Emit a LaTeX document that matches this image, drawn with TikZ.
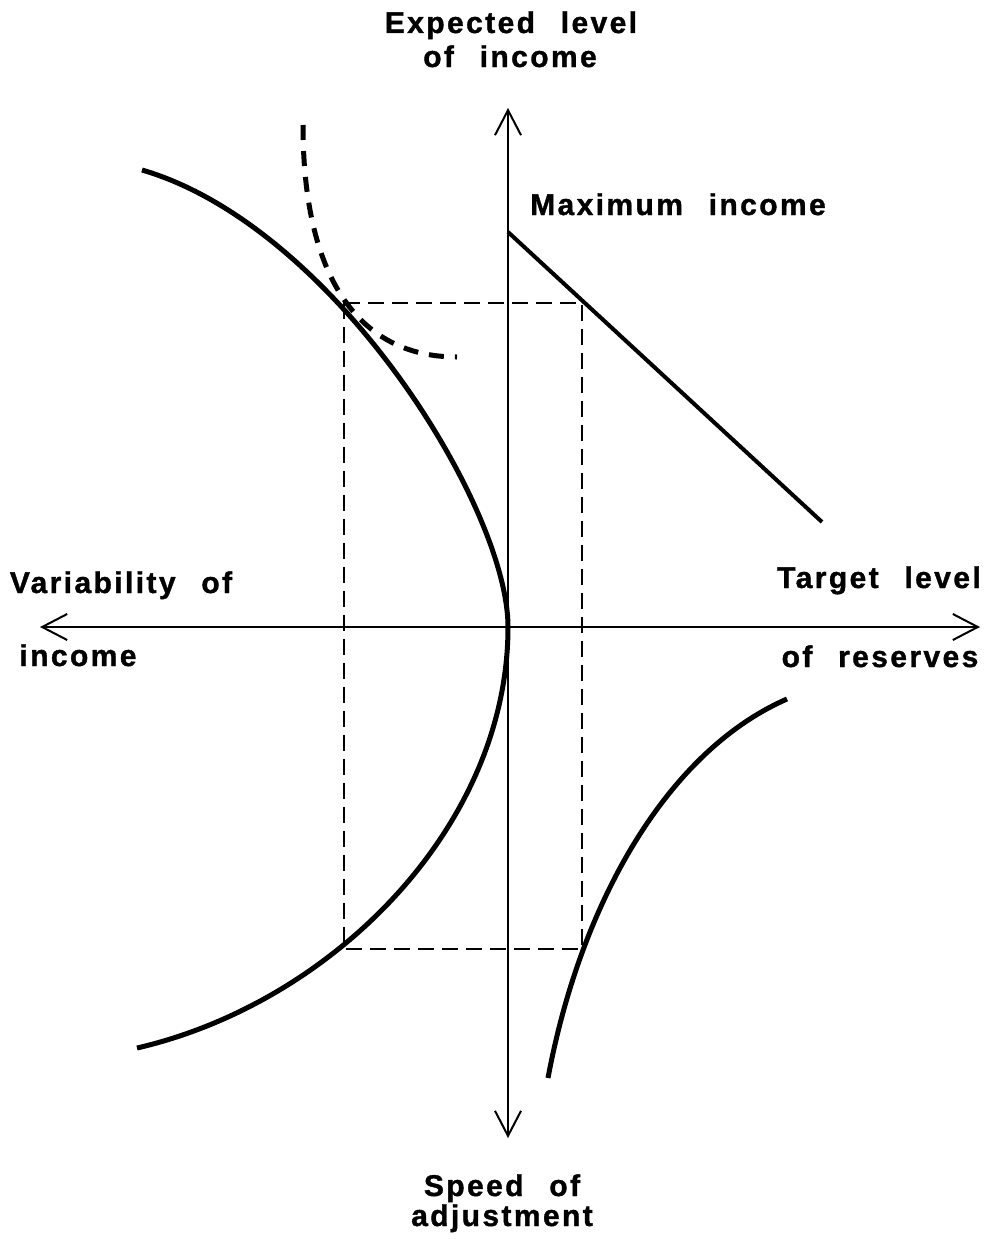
\documentclass[tikz,border=0pt]{standalone}
\usepackage{fontspec}
\setmainfont{Liberation Sans}[LetterSpace=8,WordSpace=2.4,BoldFeatures={FakeBold=1.2}]
\usetikzlibrary{arrows.meta}

\begin{document}
\begin{tikzpicture}[x=1pt,y=-1pt,
axis/.style={line width=2pt,-{Straight Barb[length=25pt,width=26pt,line width=2pt]}},
curve/.style={line width=5pt},
guide/.style={line width=1.8pt,dash pattern=on 16pt off 8pt},
indiff/.style={line width=5pt,dash pattern=on 15pt off 11pt},
lbl/.style={anchor=base,font=\fontsize{30}{36}\selectfont\bfseries,inner sep=0pt}]
\useasboundingbox (0,0) rectangle (995,1239);
\coordinate (O) at (508,627);
\coordinate (top) at (508,108);
\coordinate (bot) at (508,1138);
\coordinate (lft) at (40,627);
\coordinate (rgt) at (980,627);
% axes
\draw[axis] (O) -- (top);
\draw[axis] (O) -- (bot);
\draw[axis] (O) -- (lft);
\draw[axis] (O) -- (rgt);
% axis labels
\node[lbl] (ylabA) at (511,33) {Expected level};
\node[lbl] (ylabB) at (510,67) {of income};
\node[lbl] (xlabA) at (121,593) {Variability of};
\node[lbl] (xlabB) at (78,666) {income};
\node[lbl] (rlabA) at (879,588) {Target level};
\node[lbl] (rlabB) at (880,667) {of reserves};
\node[lbl] (blabA) at (502,1196) {Speed of};
\node[lbl] (blabB) at (502,1226) {adjustment};
\node[lbl] (maxlab) at (678,215) {Maximum income};
% frontier
\coordinate (fTop) at (142,170);
\coordinate (fBot) at (137,1048);
\draw[curve] (fTop) .. controls (334,226) and (508,507) .. (O)
  .. controls (508,827) and (332,1003) .. (fBot);
% indifference curve
\coordinate (iTop) at (303,125);
\coordinate (iEnd) at (457,357);
\draw[indiff] (iTop) .. controls (303,275) and (357,357) .. (iEnd);
% maximum income line
\coordinate (maxA) at (508,232);
\coordinate (maxB) at (822,522);
\draw[line width=4pt] (maxA) -- (maxB);
% lower right curve
\coordinate (rBot) at (548,1078);
\coordinate (rTop) at (787,699);
\draw[curve] (rBot) .. controls (581,901) and (668,751) .. (rTop);
% guide rectangle
\draw[guide] (344,303) rectangle (582,949);
\end{tikzpicture}
\end{document}
